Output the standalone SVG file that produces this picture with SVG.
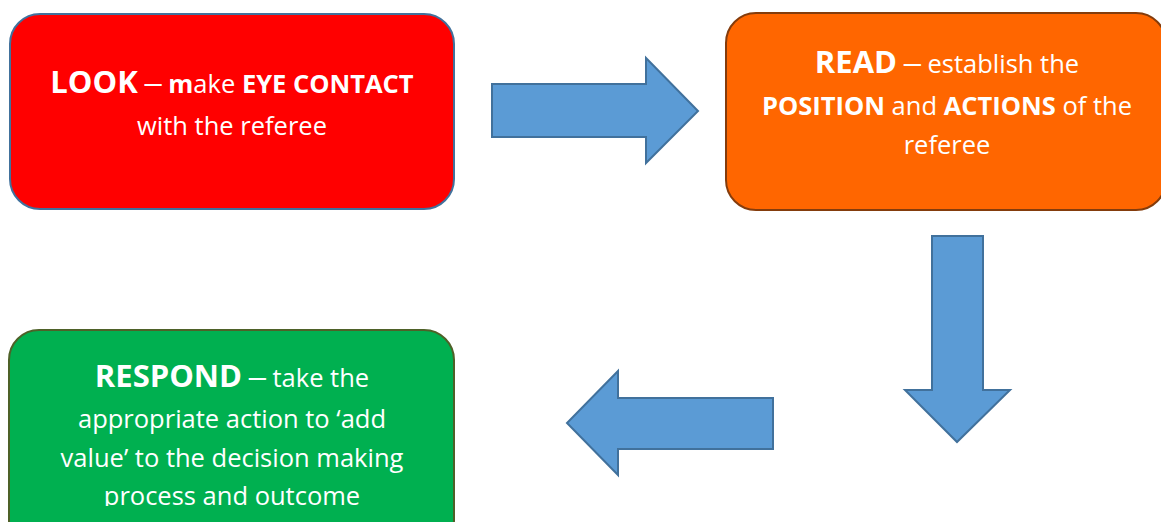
<svg xmlns="http://www.w3.org/2000/svg" width="1161" height="522" viewBox="0 0 1161 522">
<defs>
<style>
.t{font-family:"Open Sans","Liberation Sans",sans-serif;fill:#fff;text-anchor:middle;font-size:25.5px}
.b{font-weight:bold}
.h{font-weight:bold;font-size:31px}
.d{font-family:"Liberation Sans",sans-serif;font-size:31px;font-weight:normal}
.arrow{fill:#5B9BD5;stroke:#41719C;stroke-width:2}
</style>
<clipPath id="clipG"><rect x="0" y="320" width="470" height="186"/></clipPath>
</defs>
<rect width="1161" height="522" fill="#fff"/>
<g id="look">
<rect x="10" y="14" width="444" height="195" rx="30" fill="#FF0000" stroke="#41719C" stroke-width="2"/>
<text class="t" x="232" y="93"><tspan class="h">LOOK</tspan> <tspan class="d">–</tspan> <tspan class="b">m</tspan>ake <tspan class="b">EYE CONTACT</tspan></text>
<text class="t" x="232" y="135">with the referee</text>
</g>
<g id="read">
<rect x="726" y="13" width="440" height="197" rx="30" fill="#FF6600" stroke="#843C0C" stroke-width="2"/>
<text class="t" x="947" y="73"><tspan class="h">READ</tspan> <tspan class="d">–</tspan> establish the</text>
<text class="t" x="947" y="115"><tspan class="b">POSITION</tspan> and <tspan class="b">ACTIONS</tspan> of the</text>
<text class="t" x="947" y="154">referee</text>
</g>
<g id="respond">
<rect x="9" y="330" width="445" height="220" rx="30" fill="#00B050" stroke="#4E6128" stroke-width="2"/>
<g clip-path="url(#clipG)">
<text class="t" x="232" y="387"><tspan class="h">RESPOND</tspan> <tspan class="d">–</tspan> take the</text>
<text class="t" x="232" y="428">appropriate action to ‘add</text>
<text class="t" x="232" y="467">value’ to the decision making</text>
<text class="t" x="232" y="505">process and outcome</text>
</g>
</g>
<g id="connectors">
<polygon class="arrow" points="492,84 646,84 646,58 698,111 646,163 646,137 492,137"/>
<polygon class="arrow" points="932,236 983,236 983,390 1010,390 957,442 905,390 932,390"/>
<polygon class="arrow" points="773,398 618,398 618,371 567,423 618,475 618,449 773,449"/>
</g>
</svg>
